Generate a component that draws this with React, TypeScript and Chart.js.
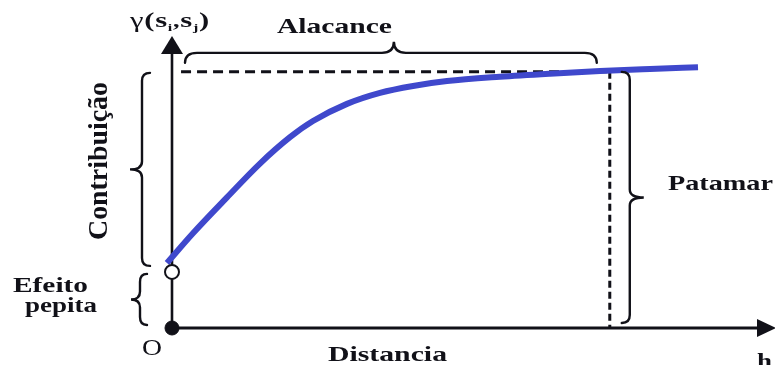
import React, { useEffect, useRef } from "react";
import { Chart, registerables } from "chart.js";

Chart.register(...registerables);

// ---- data (distance h, semivariance gamma) ----
const curveH = [-0.083, 0.348, 0.912, 1.459, 1.957, 2.338, 2.902, 3.449, 3.997, 4.561, 5.439, 6.269, 7.098, 7.927, 8.723];
const curveGamma = [0.254, 0.37, 0.51, 0.642, 0.745, 0.808, 0.875, 0.918, 0.945, 0.964, 0.981, 0.993, 1.003, 1.011, 1.018];
const nuggetValue = [0.219];
const sillValue = [1.0];
const rangeValue = [7.26];
const xLimits = [0, 10];
const yLimits = [0, 1.14];
const textLabels = ["Alacance", "Contribuição", "Efeito", "pepita", "Patamar", "Distancia", "O", "h"];

const INK = "#111118";
const BLUE = "#3f48cc";
const SERIF = "'Liberation Serif', 'Times New Roman', Times, serif";

function fitText(ctx: CanvasRenderingContext2D, text: string, x: number, y: number, font: string, width: number) {
  ctx.font = font;
  const w = ctx.measureText(text).width;
  ctx.save();
  ctx.translate(x, y);
  ctx.scale(width / w, 1);
  ctx.fillText(text, 0, 0);
  ctx.restore();
}

function vBrace(ctx: CanvasRenderingContext2D, x: number, y1: number, y2: number, endR: number, tipR: number, dir: number) {
  const ym = (y1 + y2) / 2;
  const ry = 8;
  ctx.beginPath();
  ctx.moveTo(x - dir * endR, y1);
  ctx.quadraticCurveTo(x, y1, x, y1 + ry);
  ctx.lineTo(x, ym - ry);
  ctx.quadraticCurveTo(x, ym, x + dir * tipR, ym);
  ctx.quadraticCurveTo(x, ym, x, ym + ry);
  ctx.lineTo(x, y2 - ry);
  ctx.quadraticCurveTo(x, y2, x - dir * endR, y2);
  ctx.stroke();
}

function hBrace(ctx: CanvasRenderingContext2D, x1: number, x2: number, xm: number, y: number, endR: number, tipR: number) {
  const rx = 12;
  ctx.beginPath();
  ctx.moveTo(x1, y + endR);
  ctx.quadraticCurveTo(x1, y, x1 + rx, y);
  ctx.lineTo(xm - rx, y);
  ctx.quadraticCurveTo(xm, y, xm, y - tipR);
  ctx.quadraticCurveTo(xm, y, xm + rx, y);
  ctx.lineTo(x2 - rx, y);
  ctx.quadraticCurveTo(x2, y, x2, y + endR);
  ctx.stroke();
}

const diagramPlugin = {
  id: "diagram",
  beforeDatasetsDraw(chart: any) {
    const ctx: CanvasRenderingContext2D = chart.ctx;
    const xs = chart.scales.x;
    const ys = chart.scales.y;
    const x0 = xs.getPixelForValue(0);
    const y0 = ys.getPixelForValue(0);
    const xEnd = xs.getPixelForValue(xLimits[1]);
    const yTop = ys.getPixelForValue(yLimits[1]);
    ctx.save();
    ctx.fillStyle = "#fff";
    ctx.fillRect(0, 0, chart.width, chart.height);
    ctx.strokeStyle = INK;
    ctx.fillStyle = INK;
    ctx.lineWidth = 2.6;
    ctx.beginPath();
    ctx.moveTo(x0, y0);
    ctx.lineTo(x0, yTop + 14);
    ctx.stroke();
    ctx.beginPath();
    ctx.moveTo(x0, yTop);
    ctx.lineTo(x0 - 11, yTop + 18);
    ctx.lineTo(x0 + 11, yTop + 18);
    ctx.closePath();
    ctx.fill();
    ctx.lineWidth = 3;
    ctx.beginPath();
    ctx.moveTo(x0, y0);
    ctx.lineTo(xEnd - 14, y0);
    ctx.stroke();
    ctx.beginPath();
    ctx.moveTo(xEnd + 1, y0);
    ctx.lineTo(xEnd - 18, y0 - 9);
    ctx.lineTo(xEnd - 18, y0 + 9);
    ctx.closePath();
    ctx.fill();
    ctx.restore();
  },
  afterDatasetsDraw(chart: any) {
    const ctx: CanvasRenderingContext2D = chart.ctx;
    const xs = chart.scales.x;
    const ys = chart.scales.y;
    const x0 = xs.getPixelForValue(0);
    const y0 = ys.getPixelForValue(0);
    const ySill = ys.getPixelForValue(sillValue[0]);
    const yNug = ys.getPixelForValue(nuggetValue[0]);
    const xRange = xs.getPixelForValue(rangeValue[0]);
    ctx.save();
    ctx.strokeStyle = INK;
    ctx.fillStyle = INK;
    ctx.lineWidth = 2.4;
    ctx.lineCap = "round";
    hBrace(ctx, x0 + 13, xRange - 13, (x0 + xRange) / 2 + 3, ySill - 19, 10, 11);
    vBrace(ctx, x0 - 30, ySill + 1, yNug - 6, 8, 12, -1);
    vBrace(ctx, x0 - 32, yNug + 2, y0 - 3, 7, 9, -1);
    vBrace(ctx, xRange + 20, ySill, y0 - 5, 8, 14, 1);

    ctx.textAlign = "left";
    ctx.textBaseline = "alphabetic";
    const B = `bold 22px ${SERIF}`;
    fitText(ctx, textLabels[0], 277, 33, B, 115);
    fitText(ctx, textLabels[2], 13, 292, B, 75);
    fitText(ctx, textLabels[3], 25, 312, B, 72);
    fitText(ctx, textLabels[4], 668, 190, B, 105);
    fitText(ctx, textLabels[5], 328, 361, B, 119);
    fitText(ctx, textLabels[6], 142, 355, `24px ${SERIF}`, 20);
    fitText(ctx, textLabels[7], 757, 368, B, 15);

    ctx.save();
    ctx.translate(107, 161);
    ctx.rotate(-Math.PI / 2);
    ctx.font = `bold 27px ${SERIF}`;
    const cw = ctx.measureText(textLabels[1]).width;
    ctx.scale(158 / cw, 1.05);
    ctx.textAlign = "center";
    ctx.fillText(textLabels[1], 0, 0);
    ctx.restore();

    const parts: [string, string, number][] = [
      ["γ", `21px ${SERIF}`, 0],
      ["(", `bold 21px ${SERIF}`, 0],
      ["s", `bold 21px ${SERIF}`, 0],
      ["i", `bold 11px ${SERIF}`, 4],
      [",", `bold 18px ${SERIF}`, 0],
      ["s", `bold 21px ${SERIF}`, 0],
      ["j", `bold 11px ${SERIF}`, 4],
      [")", `bold 21px ${SERIF}`, 0],
    ];
    let total = 0;
    for (const p of parts) { ctx.font = p[1]; total += ctx.measureText(p[0]).width + 0.5; }
    ctx.save();
    ctx.translate(130, 27);
    ctx.scale(80 / total, 1);
    let cx = 0;
    for (const p of parts) {
      ctx.font = p[1];
      ctx.fillText(p[0], cx, p[2]);
      cx += ctx.measureText(p[0]).width + 0.5;
    }
    ctx.restore();
    ctx.restore();
  },
};

export default function App() {
  const ref = useRef<HTMLCanvasElement | null>(null);
  useEffect(() => {
    document.body.style.margin = "0";
    if (!ref.current) return;
    const curve = curveH.map((h, i) => ({ x: h, y: curveGamma[i] }));
    const chart = new Chart(ref.current, {
      type: "scatter",
      data: {
        datasets: [
          {
            data: [{ x: 0, y: nuggetValue[0] }],
            pointRadius: 7,
            pointBackgroundColor: "#fff",
            pointBorderColor: INK,
            pointBorderWidth: 2,
            clip: false,
          } as any,
          {
            data: [{ x: 0, y: 0 }],
            pointRadius: 7,
            pointBackgroundColor: INK,
            pointBorderColor: INK,
            pointBorderWidth: 1,
            clip: false,
          } as any,
          {
            data: curve,
            showLine: true,
            borderColor: BLUE,
            borderWidth: 6,
            pointRadius: 0,
            cubicInterpolationMode: "monotone",
            clip: false,
          } as any,
          {
            data: [
              { x: 0.15, y: sillValue[0] },
              { x: rangeValue[0], y: sillValue[0] },
            ],
            showLine: true,
            borderColor: INK,
            borderWidth: 3,
            borderDash: [10, 6],
            pointRadius: 0,
          } as any,
          {
            data: [
              { x: rangeValue[0], y: sillValue[0] },
              { x: rangeValue[0], y: 0 },
            ],
            showLine: true,
            borderColor: INK,
            borderWidth: 3,
            borderDash: [7, 4],
            pointRadius: 0,
          } as any,
        ],
      },
      options: {
        animation: false,
        responsive: false,
        layout: { autoPadding: false, padding: { left: 172, right: 0, top: 36, bottom: 37 } },
        plugins: { legend: { display: false }, tooltip: { enabled: false } },
        scales: {
          x: { type: "linear", min: xLimits[0], max: xLimits[1], display: false },
          y: { type: "linear", min: yLimits[0], max: yLimits[1], display: false },
        },
      },
      plugins: [diagramPlugin],
    } as any);
    return () => { chart.destroy(); };
  }, []);
  return (
    <div style={{ width: 775, height: 365 }}>
      <canvas ref={ref} width={775} height={365} style={{ display: "block" }} />
    </div>
  );
}
